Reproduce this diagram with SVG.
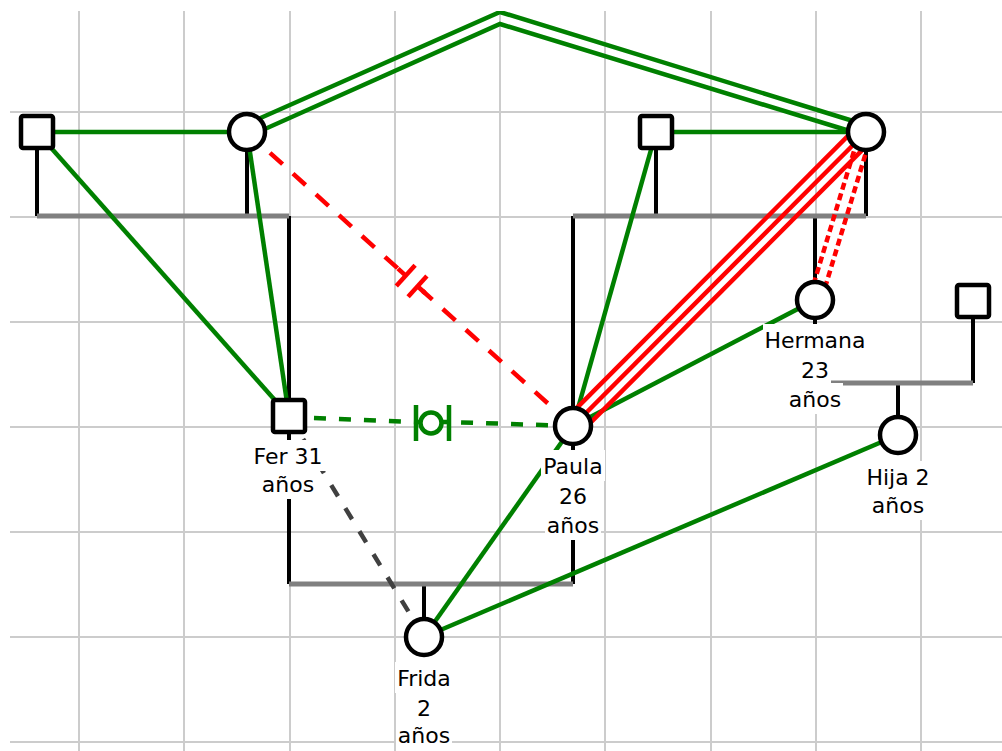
<svg xmlns="http://www.w3.org/2000/svg" width="1002" height="751" viewBox="0 0 1002 751">
<defs>
<style>
.grid{stroke:#cccccc;stroke-width:2}
.fam{stroke:#000;stroke-width:4;fill:none}
.bar{stroke:#808080;stroke-width:5;fill:none}
.g{stroke:#008000;stroke-width:4.5;fill:none}
.gd{stroke:#008000;stroke-width:4.5;fill:none;stroke-dasharray:12 13}
.kd{stroke:#404040;stroke-width:4.5;fill:none;stroke-dasharray:13 14}
.r{stroke:#ff0000;stroke-width:4.5;fill:none}
.rd{stroke:#ff0000;stroke-width:4.5;fill:none;stroke-dasharray:17 14}
.rdd{stroke:#ff0000;stroke-width:4.5;fill:none;stroke-dasharray:7 4}
.node{fill:#fff;stroke:#000;stroke-width:4.5}
.lbg{fill:#fff}
.lbl{font-family:"DejaVu Sans",Verdana,sans-serif;font-size:22px;text-anchor:middle;fill:#000}
</style>
<clipPath id="area"><rect x="0" y="11" width="1002" height="740"/></clipPath>
</defs>
<rect width="1002" height="751" fill="#fff"/>
<g id="grid" class="grid">
<line x1="10" y1="112" x2="1002" y2="112"/>
<line x1="10" y1="217" x2="1002" y2="217"/>
<line x1="10" y1="322" x2="1002" y2="322"/>
<line x1="10" y1="427" x2="1002" y2="427"/>
<line x1="10" y1="532" x2="1002" y2="532"/>
<line x1="10" y1="637" x2="1002" y2="637"/>
<line x1="10" y1="742" x2="1002" y2="742"/>
<line x1="79" y1="11" x2="79" y2="751"/>
<line x1="184" y1="11" x2="184" y2="751"/>
<line x1="290" y1="11" x2="290" y2="751"/>
<line x1="395" y1="11" x2="395" y2="751"/>
<line x1="500" y1="11" x2="500" y2="751"/>
<line x1="605" y1="11" x2="605" y2="751"/>
<line x1="711" y1="11" x2="711" y2="751"/>
<line x1="816" y1="11" x2="816" y2="751"/>
<line x1="921" y1="11" x2="921" y2="751"/>
</g>
<g id="connectors" clip-path="url(#area)">
<g id="family">
<line class="fam" x1="37" y1="148" x2="37" y2="216"/>
<line class="fam" x1="247" y1="150" x2="247" y2="216"/>
<line class="fam" x1="289" y1="216" x2="289" y2="400"/>
<line class="bar" x1="37" y1="216" x2="289" y2="216"/>
<line class="fam" x1="656" y1="148" x2="656" y2="216"/>
<line class="fam" x1="866" y1="150" x2="866" y2="216"/>
<line class="fam" x1="573" y1="216" x2="573" y2="408"/>
<line class="fam" x1="815" y1="216" x2="815" y2="282"/>
<line class="bar" x1="573" y1="216" x2="866" y2="216"/>
<line class="fam" x1="815" y1="318" x2="815" y2="383"/>
<line class="fam" x1="973" y1="317" x2="973" y2="383"/>
<line class="fam" x1="898" y1="383" x2="898" y2="417"/>
<line class="bar" x1="815" y1="383" x2="973" y2="383"/>
<line class="fam" x1="289" y1="432" x2="289" y2="584"/>
<line class="fam" x1="573" y1="444" x2="573" y2="584"/>
<line class="fam" x1="424" y1="584" x2="424" y2="619"/>
<line class="bar" x1="289" y1="584" x2="573" y2="584"/>
</g>
<g id="emotional">
<line class="g" x1="37" y1="132" x2="247" y2="132"/>
<line class="g" x1="37" y1="132" x2="289" y2="416"/>
<line class="g" x1="247" y1="132" x2="289" y2="416"/>
<polyline class="g" points="247,124 500,12 866,125"/>
<polyline class="g" points="247,137 500,24 866,136"/>
<line class="g" x1="656" y1="132" x2="866" y2="132"/>
<line class="g" x1="656" y1="132" x2="573" y2="426"/>
<line class="g" x1="815" y1="300" x2="573" y2="426"/>
<line class="g" x1="573" y1="426" x2="424" y2="637"/>
<line class="g" x1="898" y1="435" x2="424" y2="637"/>
<line class="r" x1="858.9" y1="124.9" x2="565.9" y2="418.9"/>
<line class="r" x1="866" y1="132" x2="573" y2="426"/>
<line class="r" x1="873.1" y1="139.1" x2="580.1" y2="433.1"/>
<line class="rdd" x1="860.3" y1="130.3" x2="809.3" y2="298.3"/>
<line class="rdd" x1="871.7" y1="133.7" x2="820.7" y2="301.7"/>
<line class="rd" x1="247" y1="132" x2="400.5" y2="270.9"/>
<line class="rd" x1="422.7" y1="291" x2="573" y2="426" stroke-dashoffset="4"/>
<line class="r" x1="398" y1="268.6" x2="405.7" y2="275.6"/>
<line class="r" x1="417.5" y1="286.3" x2="425" y2="293"/>
<line class="r" x1="396.3" y1="286" x2="415.1" y2="265.2"/>
<line class="r" x1="408.1" y1="296.7" x2="426.9" y2="275.9"/>
<line class="gd" x1="289" y1="417" x2="416" y2="422"/>
<line class="gd" x1="573" y1="426" x2="449" y2="422"/>
<line class="g" x1="416" y1="422" x2="449" y2="422"/>
<line class="g" x1="416" y1="405" x2="416" y2="441"/>
<line class="g" x1="449" y1="405" x2="449" y2="441"/>
<circle cx="431" cy="423" r="10.5" fill="#fff" stroke="#008000" stroke-width="4.5"/>
<line class="kd" x1="289" y1="416" x2="424" y2="637"/>
</g>
</g>
<g id="abuelo_paterno"><rect class="node" x="21" y="116" width="32" height="32" rx="2"/></g>
<g id="abuela_paterna"><circle class="node" cx="247" cy="132" r="18"/></g>
<g id="abuelo_materno"><rect class="node" x="640" y="116" width="32" height="32" rx="2"/></g>
<g id="abuela_materna"><circle class="node" cx="866" cy="132" r="18"/></g>
<g id="hermana">
<circle class="node" cx="815" cy="300" r="18"/>
<rect class="lbg" x="763" y="324" width="104" height="31"/>
<rect class="lbg" x="799" y="354" width="32" height="31"/>
<rect class="lbg" x="787" y="383" width="56" height="31"/>
<text class="lbl" x="815" y="348">Hermana</text>
<text class="lbl" x="815" y="378">23</text>
<text class="lbl" x="815" y="407">años</text>
</g>
<g id="pareja_hermana"><rect class="node" x="957" y="285" width="32" height="32" rx="2"/></g>
<g id="hija">
<circle class="node" cx="898" cy="435" r="18"/>
<rect class="lbg" x="865" y="461" width="67" height="31"/>
<rect class="lbg" x="870" y="489" width="56" height="31"/>
<text class="lbl" x="898" y="485">Hija 2</text>
<text class="lbl" x="898" y="513">años</text>
</g>
<g id="fer">
<rect class="node" x="273" y="400" width="32" height="32" rx="2"/>
<rect class="lbg" x="252" y="440" width="74" height="31"/>
<rect class="lbg" x="261" y="468" width="56" height="31"/>
<text class="lbl" x="288" y="464">Fer 31</text>
<text class="lbl" x="288" y="492">años</text>
</g>
<g id="paula">
<circle class="node" cx="573" cy="426" r="18"/>
<rect class="lbg" x="541" y="450" width="64" height="31"/>
<rect class="lbg" x="557" y="480" width="32" height="31"/>
<rect class="lbg" x="545" y="509" width="56" height="31"/>
<text class="lbl" x="573" y="474">Paula</text>
<text class="lbl" x="573" y="504">26</text>
<text class="lbl" x="573" y="533">años</text>
</g>
<g id="frida">
<circle class="node" cx="424" cy="637" r="18"/>
<rect class="lbg" x="395" y="662" width="59" height="31"/>
<rect class="lbg" x="415" y="692" width="18" height="31"/>
<rect class="lbg" x="396" y="719" width="56" height="31"/>
<text class="lbl" x="424" y="686">Frida</text>
<text class="lbl" x="424" y="716">2</text>
<text class="lbl" x="424" y="743">años</text>
</g>
</svg>
